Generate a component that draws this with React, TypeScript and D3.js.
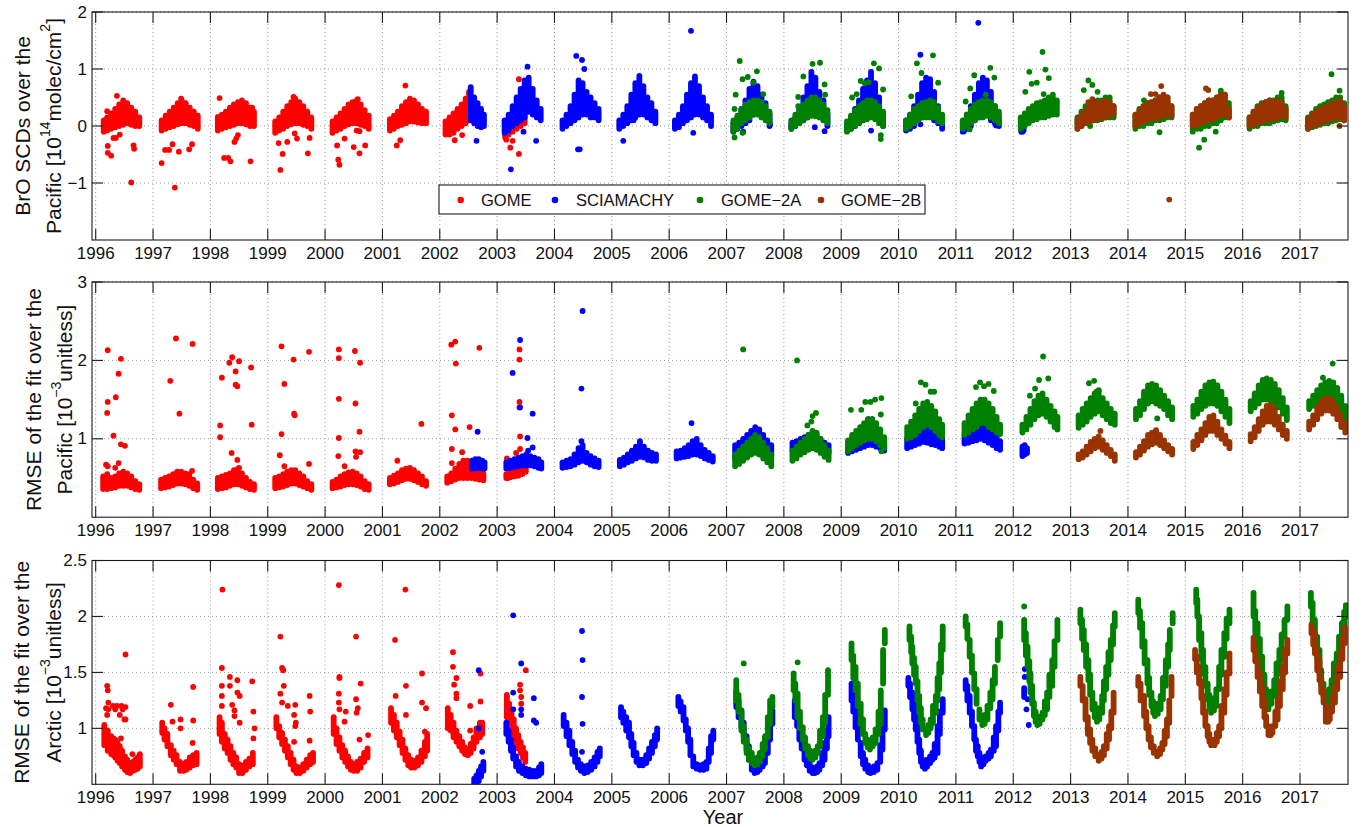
import React from 'react';
import * as d3 from 'd3';

type Band = [number, number, number];
type Pt = [number, number];

const yearTicks = [1996, 1997, 1998, 1999, 2000, 2001, 2002, 2003, 2004, 2005, 2006, 2007, 2008, 2009, 2010, 2011, 2012, 2013, 2014, 2015, 2016, 2017];
const instruments = ['GOME', 'SCIAMACHY', 'GOME\u22122A', 'GOME\u22122B'];

const scdTicks = [2, 1, 0, -1];
const scdTickLabels = ['2', '1', '0', '\u22121'];
const pacTicks = [3, 2, 1];
const pacTickLabels = ['3', '2', '1'];
const arcTicks = [2.5, 2, 1.5, 1];
const arcTickLabels = ['2.5', '2', '1.5', '1'];

// ---------------- Panel 1: BrO SCDs over the Pacific ----------------
const scdGomeBand: Band[] = [
  [1996.14,-0.1,0.1],[1996.2,-0.08,0.15],[1996.27,-0.05,0.22],[1996.34,-0.02,0.3],[1996.41,0.0,0.38],[1996.48,0.02,0.45],[1996.55,0.05,0.4],[1996.62,0.02,0.32],[1996.69,0.0,0.25],[1996.76,0.0,0.15],
  [1997.15,-0.08,0.1],[1997.22,-0.05,0.18],[1997.29,-0.02,0.25],[1997.36,0.0,0.32],[1997.43,0.03,0.4],[1997.5,0.05,0.45],[1997.57,0.05,0.4],[1997.64,0.02,0.32],[1997.71,0.0,0.25],[1997.78,-0.05,0.18],
  [1998.13,-0.08,0.16],[1998.2,-0.05,0.2],[1998.27,-0.02,0.25],[1998.34,0.0,0.32],[1998.41,0.02,0.38],[1998.48,0.05,0.42],[1998.55,0.05,0.45],[1998.62,0.03,0.4],[1998.69,0.0,0.32],[1998.76,0.0,0.25],
  [1999.13,-0.12,0.08],[1999.2,-0.08,0.15],[1999.27,-0.05,0.25],[1999.34,0.0,0.35],[1999.41,0.03,0.42],[1999.48,0.05,0.48],[1999.55,0.05,0.42],[1999.62,0.02,0.35],[1999.69,0.0,0.25],[1999.76,-0.05,0.15],
  [2000.13,-0.12,0.08],[2000.2,-0.08,0.15],[2000.27,-0.05,0.22],[2000.34,0.0,0.3],[2000.41,0.03,0.38],[2000.48,0.05,0.42],[2000.55,0.05,0.45],[2000.62,0.02,0.38],[2000.69,0.0,0.28],[2000.76,-0.05,0.18],
  [2001.13,-0.08,0.12],[2001.2,-0.05,0.18],[2001.27,0.0,0.25],[2001.34,0.02,0.35],[2001.41,0.05,0.42],[2001.48,0.08,0.48],[2001.55,0.08,0.45],[2001.62,0.06,0.38],[2001.69,0.05,0.3],[2001.76,0.05,0.25],
  [2002.1,-0.15,0.08],[2002.17,-0.15,0.15],[2002.24,-0.12,0.22],[2002.31,-0.05,0.3],[2002.38,0.0,0.38],[2002.45,0.05,0.48],[2002.51,0.1,0.6],
  [2003.14,-0.2,0.0],[2003.2,-0.15,0.08],[2003.27,-0.1,0.15],[2003.34,-0.05,0.22],[2003.41,0.0,0.3],[2003.48,0.05,0.4],
];
const scdGomePts: Pt[] = [
  [1996.2,0.26],[1996.37,0.53],[1996.21,-0.35],[1996.21,-0.47],[1996.27,-0.52],[1996.31,-0.21],[1996.35,-0.21],[1996.42,-0.15],[1996.62,-0.99],[1996.66,-0.34],[1996.67,-0.4],
  [1997.15,-0.65],[1997.21,-0.42],[1997.28,-0.42],[1997.34,-0.32],[1997.38,-1.08],[1997.45,-0.45],[1997.49,0.48],[1997.63,-0.41],[1997.68,-0.32],
  [1998.16,0.49],[1998.24,-0.56],[1998.31,-0.56],[1998.35,-0.62],[1998.42,-0.28],[1998.45,-0.22],[1998.48,-0.16],[1998.7,-0.62],[1998.73,0.32],
  [1999.19,-0.3],[1999.22,-0.77],[1999.26,-0.49],[1999.34,-0.28],[1999.45,0.51],[1999.47,-0.13],[1999.51,-0.22],[1999.7,-0.48],[1999.73,-0.21],
  [2000.21,-0.34],[2000.23,-0.59],[2000.25,-0.68],[2000.34,-0.22],[2000.5,-0.37],[2000.57,0.47],[2000.6,-0.48],[2000.7,-0.34],[2000.55,-0.08],[2000.6,-0.09],
  [2001.4,0.71],[2001.25,-0.34],[2001.31,-0.25],
  [2002.26,-0.25],[2002.39,-0.16],
  [2003.38,0.82],[2003.16,-0.24],[2003.23,-0.38],[2003.27,-0.26],[2003.38,-0.49],
];
const scdSciaBand: Band[] = [
  [2002.54,0.1,0.68],[2002.6,0.05,0.5],[2002.66,0.0,0.4],[2002.72,-0.02,0.3],[2002.77,0.0,0.2],
  [2003.13,-0.12,0.1],[2003.2,-0.08,0.2],[2003.27,0.0,0.35],[2003.34,0.05,0.5],[2003.41,0.1,0.65],[2003.48,0.15,0.8],[2003.55,0.25,0.85],[2003.62,0.2,0.65],[2003.69,0.15,0.45],[2003.76,0.1,0.3],
  [2004.14,-0.05,0.1],[2004.21,0.0,0.2],[2004.28,0.05,0.35],[2004.35,0.1,0.55],[2004.42,0.15,0.8],[2004.49,0.2,0.75],[2004.56,0.2,0.6],[2004.63,0.15,0.5],[2004.7,0.15,0.4],[2004.77,0.1,0.3],
  [2005.13,-0.05,0.1],[2005.2,0.0,0.2],[2005.27,0.05,0.35],[2005.34,0.1,0.55],[2005.41,0.15,0.75],[2005.48,0.2,0.88],[2005.55,0.2,0.7],[2005.62,0.15,0.5],[2005.69,0.1,0.4],[2005.76,0.05,0.25],
  [2006.1,-0.05,0.1],[2006.17,-0.02,0.2],[2006.24,0.05,0.35],[2006.31,0.1,0.55],[2006.38,0.15,0.75],[2006.45,0.2,0.87],[2006.52,0.2,0.7],[2006.59,0.15,0.5],[2006.66,0.1,0.35],[2006.73,0.0,0.2],
  [2007.12,-0.1,0.05],[2007.19,-0.05,0.15],[2007.26,0.0,0.3],[2007.33,0.05,0.45],[2007.4,0.1,0.65],[2007.47,0.2,0.78],[2007.54,0.25,0.7],[2007.61,0.25,0.55],[2007.68,0.15,0.4],[2007.75,0.0,0.2],
  [2008.13,-0.05,0.05],[2008.2,0.0,0.15],[2008.27,0.05,0.3],[2008.34,0.1,0.5],[2008.41,0.15,0.7],[2008.48,0.2,0.95],[2008.55,0.25,0.85],[2008.62,0.2,0.6],[2008.69,0.1,0.45],[2008.76,0.0,0.2],
  [2009.1,-0.08,0.05],[2009.17,-0.05,0.15],[2009.24,0.0,0.3],[2009.31,0.05,0.45],[2009.38,0.1,0.65],[2009.45,0.15,0.8],[2009.52,0.2,0.95],[2009.59,0.15,0.75],[2009.66,0.1,0.5],[2009.73,0.0,0.2],
  [2010.13,-0.08,0.1],[2010.2,-0.05,0.2],[2010.27,0.0,0.35],[2010.34,0.1,0.55],[2010.41,0.15,0.75],[2010.48,0.2,0.85],[2010.55,0.2,0.82],[2010.62,0.1,0.6],[2010.69,0.05,0.35],[2010.76,-0.05,0.15],
  [2011.12,-0.1,0.08],[2011.19,-0.05,0.2],[2011.26,0.0,0.35],[2011.33,0.1,0.55],[2011.4,0.15,0.75],[2011.47,0.2,0.85],[2011.54,0.2,0.8],[2011.61,0.1,0.6],[2011.68,0.05,0.35],[2011.75,0.0,0.15],
  [2012.14,-0.1,0.05],[2012.18,-0.08,0.08],
];
const scdSciaPts: Pt[] = [
  [2002.64,-0.26],[2003.53,1.04],[2003.24,-0.76],[2003.68,-0.26],[2003.46,-0.1],[2004.38,1.23],[2004.48,1.16],[2004.52,1.0],[2004.41,-0.41],[2004.44,-0.41],
  [2005.2,-0.26],[2005.38,0.1],[2006.38,1.67],[2006.42,-0.12],[2007.29,-0.1],[2007.76,0.03],[2008.54,-0.02],[2008.71,-0.09],[2009.52,-0.08],
  [2010.38,1.25],[2010.15,-0.05],[2010.38,0.03],[2011.39,1.81],[2011.14,-0.09],[2011.7,0.01],[2012.16,-0.1],
];
const scdG2aBand: Band[] = [
  [2007.12,-0.1,0.1],[2007.19,-0.05,0.18],[2007.26,0.05,0.3],[2007.33,0.1,0.38],[2007.4,0.15,0.42],[2007.47,0.2,0.45],[2007.54,0.2,0.45],[2007.61,0.15,0.42],[2007.68,0.1,0.35],[2007.75,0.05,0.25],
  [2008.13,-0.05,0.1],[2008.2,0.0,0.2],[2008.27,0.05,0.3],[2008.34,0.1,0.38],[2008.41,0.15,0.45],[2008.48,0.18,0.5],[2008.55,0.2,0.5],[2008.62,0.15,0.45],[2008.69,0.1,0.38],[2008.76,0.05,0.28],
  [2009.1,-0.1,0.08],[2009.17,-0.05,0.18],[2009.24,0.0,0.28],[2009.31,0.05,0.35],[2009.38,0.1,0.4],[2009.45,0.12,0.45],[2009.52,0.15,0.45],[2009.59,0.12,0.42],[2009.66,0.05,0.35],[2009.73,0.0,0.25],
  [2010.13,-0.05,0.1],[2010.2,0.0,0.2],[2010.27,0.05,0.3],[2010.34,0.1,0.35],[2010.41,0.15,0.4],[2010.48,0.15,0.42],[2010.55,0.15,0.45],[2010.62,0.15,0.42],[2010.69,0.08,0.32],[2010.76,0.05,0.2],
  [2011.12,-0.05,0.1],[2011.19,0.0,0.2],[2011.26,0.05,0.3],[2011.33,0.1,0.38],[2011.4,0.15,0.42],[2011.47,0.15,0.45],[2011.54,0.18,0.45],[2011.61,0.15,0.42],[2011.68,0.1,0.35],[2011.75,0.05,0.25],
  [2012.13,-0.05,0.15],[2012.2,0.0,0.22],[2012.27,0.05,0.3],[2012.34,0.1,0.35],[2012.41,0.12,0.4],[2012.48,0.15,0.42],[2012.55,0.15,0.45],[2012.62,0.18,0.5],[2012.69,0.2,0.55],[2012.76,0.2,0.45],
  [2013.12,-0.05,0.15],[2013.19,0.0,0.25],[2013.26,0.05,0.35],[2013.33,0.05,0.4],[2013.4,0.1,0.42],[2013.47,0.1,0.45],[2013.54,0.12,0.45],[2013.61,0.15,0.5],[2013.68,0.15,0.5],[2013.75,0.15,0.35],
  [2014.13,-0.05,0.2],[2014.2,0.0,0.3],[2014.27,0.0,0.35],[2014.34,0.05,0.4],[2014.41,0.05,0.42],[2014.48,0.1,0.45],[2014.55,0.1,0.5],[2014.62,0.12,0.5],[2014.69,0.15,0.5],[2014.76,0.15,0.35],
  [2015.13,-0.1,0.2],[2015.2,-0.05,0.3],[2015.27,-0.05,0.35],[2015.34,0.0,0.4],[2015.41,0.0,0.45],[2015.48,0.05,0.45],[2015.55,0.05,0.5],[2015.62,0.1,0.55],[2015.69,0.15,0.55],[2015.76,0.15,0.4],
  [2016.12,-0.05,0.15],[2016.19,0.0,0.25],[2016.26,0.0,0.35],[2016.33,0.05,0.4],[2016.4,0.05,0.42],[2016.47,0.05,0.45],[2016.54,0.08,0.45],[2016.61,0.1,0.5],[2016.68,0.12,0.5],[2016.75,0.1,0.35],
  [2017.14,-0.05,0.15],[2017.21,-0.02,0.22],[2017.28,0.0,0.3],[2017.35,0.02,0.35],[2017.42,0.05,0.38],[2017.49,0.05,0.42],[2017.56,0.08,0.45],[2017.63,0.1,0.5],[2017.7,0.12,0.5],[2017.77,0.1,0.4],
];
const scdG2aPts: Pt[] = [
  [2007.23,1.14],[2007.16,0.55],[2007.14,0.3],[2007.28,0.82],[2007.37,0.86],[2007.53,0.96],[2007.64,0.56],[2007.47,0.76],[2007.14,-0.2],[2007.28,-0.12],
  [2008.34,0.87],[2008.5,1.09],[2008.63,1.11],[2008.25,0.51],[2008.25,0.35],[2008.71,0.73],[2008.72,0.55],[2008.55,0.17],
  [2009.19,0.5],[2009.34,0.79],[2009.48,0.77],[2009.57,1.1],[2009.66,1.01],[2009.73,0.64],[2009.69,-0.16],[2009.69,-0.23],[2009.41,0.75],[2009.27,0.56],
  [2010.6,1.24],[2010.32,1.1],[2010.4,0.93],[2010.22,0.52],[2010.69,0.76],
  [2011.32,0.89],[2011.6,1.02],[2011.67,0.85],[2011.25,0.66],[2011.17,0.43],[2011.52,0.55],[2011.24,-0.06],
  [2012.51,1.3],[2012.28,0.95],[2012.56,0.99],[2012.62,0.84],[2012.32,0.74],[2012.41,0.76],[2012.21,0.6],[2012.53,0.56],
  [2013.31,0.8],[2013.23,0.63],[2013.38,0.72],[2013.47,0.6],[2013.34,0.0],
  [2014.55,-0.11],[2014.28,0.45],
  [2015.24,-0.38],[2015.33,-0.24],[2015.53,-0.1],[2015.62,0.62],
  [2016.68,0.58],
  [2017.55,0.91],[2017.69,0.62],
];
const scdG2bBand: Band[] = [
  [2013.12,-0.05,0.12],[2013.19,0.0,0.2],[2013.26,0.05,0.28],[2013.33,0.08,0.35],[2013.4,0.1,0.38],[2013.47,0.12,0.4],[2013.54,0.15,0.42],[2013.61,0.15,0.45],[2013.68,0.2,0.42],[2013.75,0.2,0.35],
  [2014.13,0.0,0.2],[2014.2,0.05,0.28],[2014.27,0.08,0.35],[2014.34,0.1,0.4],[2014.41,0.12,0.42],[2014.48,0.15,0.45],[2014.55,0.15,0.5],[2014.62,0.18,0.55],[2014.69,0.2,0.5],[2014.76,0.18,0.35],
  [2015.13,0.0,0.2],[2015.2,0.02,0.3],[2015.27,0.05,0.35],[2015.34,0.08,0.4],[2015.41,0.1,0.45],[2015.48,0.12,0.45],[2015.55,0.15,0.5],[2015.62,0.2,0.55],[2015.69,0.2,0.55],[2015.76,0.15,0.3],
  [2016.12,0.0,0.15],[2016.19,0.02,0.25],[2016.26,0.05,0.32],[2016.33,0.08,0.38],[2016.4,0.1,0.42],[2016.47,0.12,0.45],[2016.54,0.12,0.42],[2016.61,0.15,0.45],[2016.68,0.18,0.42],[2016.75,0.15,0.3],
  [2017.14,-0.05,0.12],[2017.21,0.0,0.2],[2017.28,0.02,0.25],[2017.35,0.05,0.3],[2017.42,0.08,0.32],[2017.49,0.1,0.35],[2017.56,0.12,0.4],[2017.63,0.15,0.42],[2017.7,0.15,0.45],[2017.77,0.1,0.35],
];
const scdG2bPts: Pt[] = [
  [2013.38,0.47],[2013.31,0.42],[2014.72,-1.29],[2014.58,0.7],[2014.48,0.56],[2014.4,0.56],[2015.36,0.66],[2015.4,0.63],[2017.69,0.0],
];

// ---------------- Panel 2: RMSE over the Pacific ----------------
const pacGomeBand: Band[] = [
  [1996.13,0.36,0.52],[1996.2,0.36,0.55],[1996.27,0.37,0.5],[1996.34,0.38,0.52],[1996.41,0.4,0.56],[1996.48,0.4,0.58],[1996.55,0.4,0.56],[1996.62,0.38,0.52],[1996.69,0.36,0.46],[1996.76,0.35,0.42],
  [1997.14,0.37,0.48],[1997.21,0.38,0.5],[1997.28,0.39,0.52],[1997.35,0.41,0.55],[1997.42,0.43,0.58],[1997.49,0.43,0.58],[1997.56,0.42,0.56],[1997.63,0.4,0.55],[1997.7,0.37,0.48],[1997.77,0.35,0.43],
  [1998.13,0.36,0.5],[1998.2,0.37,0.52],[1998.27,0.38,0.54],[1998.34,0.4,0.56],[1998.41,0.42,0.6],[1998.48,0.42,0.62],[1998.55,0.4,0.56],[1998.62,0.38,0.5],[1998.69,0.36,0.45],[1998.76,0.35,0.42],
  [1999.13,0.37,0.5],[1999.2,0.38,0.52],[1999.27,0.39,0.55],[1999.34,0.41,0.58],[1999.41,0.43,0.6],[1999.48,0.43,0.6],[1999.55,0.41,0.56],[1999.62,0.39,0.52],[1999.69,0.37,0.46],[1999.76,0.35,0.42],
  [2000.13,0.37,0.45],[2000.2,0.38,0.48],[2000.27,0.39,0.52],[2000.34,0.41,0.55],[2000.41,0.42,0.57],[2000.48,0.42,0.58],[2000.55,0.41,0.56],[2000.62,0.39,0.52],[2000.69,0.36,0.46],[2000.76,0.35,0.42],
  [2001.13,0.42,0.5],[2001.2,0.43,0.53],[2001.27,0.45,0.56],[2001.34,0.47,0.6],[2001.41,0.49,0.62],[2001.48,0.49,0.63],[2001.55,0.47,0.6],[2001.62,0.45,0.56],[2001.69,0.42,0.52],[2001.76,0.4,0.46],
  [2002.13,0.44,0.52],[2002.2,0.46,0.56],[2002.27,0.48,0.62],[2002.34,0.5,0.68],[2002.41,0.5,0.72],[2002.48,0.5,0.72],[2002.55,0.5,0.68],[2002.62,0.49,0.62],[2002.69,0.48,0.58],[2002.76,0.47,0.56],
  [2003.16,0.5,0.55],[2003.23,0.51,0.58],[2003.3,0.52,0.6],[2003.37,0.53,0.62],[2003.44,0.55,0.65],[2003.5,0.58,0.66],
];
const pacGomePts: Pt[] = [
  [1996.21,2.13],[1996.21,1.47],[1996.2,1.33],[1996.31,1.04],[1996.35,1.53],[1996.4,1.83],[1996.44,2.02],[1996.44,0.93],[1996.51,0.91],[1996.34,0.63],[1996.4,0.69],[1996.18,0.67],[1996.21,0.65],
  [1997.4,2.28],[1997.3,1.74],[1997.46,1.32],[1997.69,2.21],[1997.68,0.59],
  [1998.2,1.78],[1998.17,1.17],[1998.17,1.02],[1998.33,1.97],[1998.38,2.04],[1998.5,1.99],[1998.44,1.86],[1998.44,1.69],[1998.47,1.67],[1998.37,0.82],[1998.47,0.73],[1998.5,0.63],[1998.71,1.91],[1998.72,1.18],
  [1999.24,2.18],[1999.29,1.7],[1999.24,1.06],[1999.21,0.79],[1999.29,0.65],[1999.45,2.01],[1999.46,1.32],[1999.47,1.3],[1999.72,2.11],[1999.72,0.68],
  [2000.24,2.14],[2000.24,2.03],[2000.24,1.51],[2000.24,1.01],[2000.23,0.78],[2000.34,0.65],[2000.52,2.12],[2000.53,1.45],[2000.53,0.84],[2000.54,0.77],[2000.61,1.97],[2000.6,1.09],[2000.61,0.83],
  [2001.26,0.72],[2001.68,1.19],
  [2002.2,2.2],[2002.27,2.24],[2002.28,1.96],[2002.69,2.16],[2002.21,1.3],[2002.27,1.12],[2002.52,1.15],[2002.21,0.87],[2002.39,0.83],[2002.21,0.69],
  [2003.39,2.14],[2003.39,2.01],[2003.39,1.47],[2003.39,1.4],[2003.4,1.03],[2003.4,0.87],[2003.33,0.82],[2003.17,0.75],[2003.19,0.5],
];
const pacSciaBand: Band[] = [
  [2002.56,0.62,0.72],[2002.62,0.62,0.74],[2002.68,0.63,0.74],[2002.74,0.62,0.72],[2002.78,0.62,0.7],
  [2003.16,0.62,0.7],[2003.23,0.63,0.72],[2003.3,0.64,0.74],[2003.37,0.65,0.76],[2003.44,0.66,0.78],[2003.51,0.66,0.8],[2003.58,0.66,0.78],[2003.65,0.65,0.76],[2003.72,0.63,0.74],[2003.77,0.62,0.7],
  [2004.14,0.63,0.7],[2004.21,0.64,0.72],[2004.28,0.65,0.74],[2004.35,0.67,0.8],[2004.42,0.7,0.88],[2004.49,0.72,0.92],[2004.56,0.7,0.82],[2004.63,0.67,0.78],[2004.7,0.65,0.75],[2004.77,0.64,0.72],
  [2005.14,0.65,0.73],[2005.21,0.67,0.76],[2005.28,0.7,0.8],[2005.35,0.72,0.85],[2005.42,0.75,0.9],[2005.49,0.77,0.97],[2005.56,0.76,0.9],[2005.63,0.73,0.85],[2005.7,0.72,0.82],[2005.77,0.72,0.8],
  [2006.13,0.75,0.84],[2006.2,0.76,0.85],[2006.27,0.77,0.88],[2006.34,0.78,0.92],[2006.41,0.8,0.97],[2006.48,0.8,1.0],[2006.55,0.78,0.92],[2006.62,0.75,0.86],[2006.69,0.73,0.82],[2006.76,0.71,0.78],
  [2007.15,0.75,0.92],[2007.22,0.78,0.95],[2007.29,0.8,1.0],[2007.36,0.82,1.05],[2007.43,0.85,1.1],[2007.5,0.88,1.15],[2007.57,0.88,1.12],[2007.64,0.85,1.05],[2007.71,0.8,0.98],[2007.78,0.78,0.92],
  [2008.15,0.85,0.95],[2008.22,0.86,0.97],[2008.29,0.87,1.0],[2008.36,0.88,1.02],[2008.43,0.9,1.05],[2008.5,0.9,1.08],[2008.57,0.9,1.06],[2008.64,0.88,1.0],[2008.71,0.85,0.95],[2008.78,0.82,0.92],
  [2009.12,0.82,0.95],[2009.19,0.84,1.0],[2009.26,0.86,1.05],[2009.33,0.88,1.1],[2009.4,0.9,1.18],[2009.47,0.92,1.25],[2009.54,0.92,1.25],[2009.61,0.9,1.15],[2009.68,0.88,1.05],[2009.75,0.85,0.95],
  [2010.15,0.88,1.0],[2010.22,0.9,1.05],[2010.29,0.92,1.12],[2010.36,0.94,1.18],[2010.43,0.96,1.24],[2010.5,0.95,1.26],[2010.57,0.93,1.2],[2010.64,0.92,1.12],[2010.71,0.9,1.05],[2010.76,0.88,1.0],
  [2011.15,0.94,1.05],[2011.22,0.95,1.12],[2011.29,0.97,1.2],[2011.36,0.98,1.28],[2011.43,1.0,1.33],[2011.5,0.98,1.3],[2011.57,0.95,1.2],[2011.64,0.92,1.1],[2011.71,0.88,1.02],[2011.77,0.86,0.97],
  [2012.16,0.78,0.9],[2012.2,0.8,0.92],[2012.24,0.82,0.88],
];
const pacSciaPts: Pt[] = [
  [2002.66,1.09],[2003.4,2.26],[2003.27,1.84],[2003.4,1.4],[2003.62,1.32],[2003.53,1.01],[2003.54,0.85],[2003.62,0.89],
  [2004.49,2.63],[2004.47,1.64],[2004.47,0.97],[2006.39,1.2],
];
const pacG2aBand: Band[] = [
  [2007.15,0.65,0.8],[2007.22,0.68,0.85],[2007.29,0.72,0.9],[2007.36,0.76,0.95],[2007.43,0.8,1.0],[2007.5,0.82,1.05],[2007.57,0.8,1.02],[2007.64,0.75,0.95],[2007.71,0.7,0.88],[2007.78,0.65,0.8],
  [2008.15,0.72,0.85],[2008.22,0.75,0.9],[2008.29,0.8,0.95],[2008.36,0.83,1.0],[2008.43,0.86,1.05],[2008.5,0.88,1.1],[2008.57,0.86,1.08],[2008.64,0.82,1.0],[2008.71,0.77,0.92],[2008.78,0.73,0.85],
  [2009.12,0.84,0.98],[2009.19,0.88,1.05],[2009.26,0.92,1.1],[2009.33,0.95,1.15],[2009.4,0.98,1.2],[2009.47,1.0,1.25],[2009.54,1.0,1.25],[2009.61,0.97,1.2],[2009.68,0.92,1.12],[2009.75,0.88,1.02],
  [2010.15,1.0,1.15],[2010.22,1.02,1.22],[2010.29,1.05,1.3],[2010.36,1.1,1.38],[2010.43,1.15,1.45],[2010.5,1.18,1.47],[2010.57,1.15,1.42],[2010.64,1.1,1.35],[2010.71,1.05,1.25],[2010.76,1.02,1.18],
  [2011.15,1.05,1.2],[2011.22,1.08,1.3],[2011.29,1.12,1.38],[2011.36,1.15,1.45],[2011.43,1.2,1.5],[2011.5,1.2,1.5],[2011.57,1.15,1.45],[2011.64,1.12,1.38],[2011.71,1.08,1.28],[2011.77,1.06,1.18],
  [2012.16,1.08,1.18],[2012.23,1.12,1.28],[2012.3,1.18,1.38],[2012.37,1.25,1.48],[2012.44,1.3,1.55],[2012.51,1.32,1.58],[2012.58,1.28,1.5],[2012.65,1.22,1.42],[2012.72,1.15,1.35],[2012.77,1.12,1.28],
  [2013.14,1.14,1.3],[2013.21,1.18,1.38],[2013.28,1.22,1.45],[2013.35,1.28,1.52],[2013.42,1.32,1.58],[2013.49,1.35,1.6],[2013.56,1.3,1.52],[2013.63,1.25,1.45],[2013.7,1.2,1.38],[2013.77,1.18,1.32],
  [2014.14,1.25,1.38],[2014.21,1.3,1.48],[2014.28,1.38,1.6],[2014.35,1.45,1.68],[2014.42,1.48,1.7],[2014.49,1.45,1.68],[2014.56,1.42,1.62],[2014.63,1.38,1.55],[2014.7,1.3,1.48],[2014.77,1.25,1.4],
  [2015.14,1.28,1.42],[2015.21,1.32,1.5],[2015.28,1.38,1.6],[2015.35,1.42,1.68],[2015.42,1.45,1.72],[2015.49,1.45,1.73],[2015.56,1.42,1.68],[2015.63,1.35,1.6],[2015.7,1.28,1.5],[2015.77,1.2,1.38],
  [2016.14,1.35,1.48],[2016.21,1.4,1.58],[2016.28,1.45,1.68],[2016.35,1.5,1.75],[2016.42,1.5,1.77],[2016.49,1.48,1.75],[2016.56,1.45,1.7],[2016.63,1.4,1.62],[2016.7,1.32,1.52],[2016.77,1.24,1.4],
  [2017.16,1.38,1.48],[2017.23,1.42,1.55],[2017.3,1.45,1.62],[2017.37,1.48,1.68],[2017.44,1.5,1.72],[2017.51,1.5,1.74],[2017.58,1.48,1.72],[2017.65,1.42,1.65],[2017.72,1.35,1.55],[2017.79,1.25,1.42],
];
const pacG2aPts: Pt[] = [
  [2007.29,2.14],[2008.23,2.0],[2008.41,1.17],[2008.5,1.29],[2008.56,1.33],[2008.48,1.22],
  [2009.17,1.37],[2009.35,1.37],[2009.42,1.47],[2009.51,1.47],[2009.59,1.5],[2009.7,1.52],[2009.69,1.31],[2009.7,0.84],
  [2010.39,1.72],[2010.47,1.69],[2010.56,1.6],[2010.62,1.6],[2010.3,1.45],
  [2011.35,1.66],[2011.42,1.72],[2011.57,1.7],[2011.66,1.61],[2011.49,1.67],
  [2012.52,2.05],[2012.61,1.77],[2012.45,1.75],[2012.38,1.64],[2012.29,1.55],
  [2013.32,1.71],[2013.41,1.74],[2013.49,1.62],[2013.45,1.6],
  [2014.51,1.26],[2017.57,1.96],[2017.4,1.78],
];
const pacG2bBand: Band[] = [
  [2013.14,0.74,0.8],[2013.21,0.76,0.84],[2013.28,0.8,0.9],[2013.35,0.84,0.96],[2013.42,0.88,1.0],[2013.49,0.9,1.03],[2013.56,0.86,0.98],[2013.63,0.82,0.92],[2013.7,0.78,0.86],[2013.77,0.72,0.8],
  [2014.14,0.76,0.83],[2014.21,0.8,0.9],[2014.28,0.85,0.97],[2014.35,0.9,1.05],[2014.42,0.93,1.08],[2014.49,0.95,1.11],[2014.56,0.92,1.05],[2014.63,0.88,0.98],[2014.7,0.84,0.92],[2014.77,0.8,0.87],
  [2015.14,0.87,0.96],[2015.21,0.92,1.05],[2015.28,0.98,1.12],[2015.35,1.05,1.2],[2015.42,1.1,1.28],[2015.49,1.1,1.3],[2015.56,1.05,1.22],[2015.63,1.0,1.12],[2015.7,0.94,1.04],[2015.77,0.88,0.96],
  [2016.14,0.97,1.06],[2016.21,1.02,1.15],[2016.28,1.1,1.25],[2016.35,1.18,1.35],[2016.42,1.22,1.42],[2016.49,1.22,1.43],[2016.56,1.18,1.38],[2016.63,1.12,1.28],[2016.7,1.05,1.18],[2016.77,1.0,1.1],
  [2017.16,1.12,1.22],[2017.23,1.18,1.3],[2017.3,1.25,1.4],[2017.37,1.32,1.48],[2017.44,1.36,1.52],[2017.51,1.36,1.52],[2017.58,1.32,1.48],[2017.65,1.25,1.4],[2017.72,1.15,1.3],[2017.79,1.08,1.2],
];
const pacG2bPts: Pt[] = [[2013.52,1.1]];

// ---------------- Panel 3: RMSE over the Arctic ----------------
const arcGomeBand: Band[] = [
  [1996.15,0.85,1.03],[1996.21,0.8,0.98],[1996.27,0.77,0.93],[1996.31,0.76,0.91],[1996.34,0.74,0.9],[1996.38,0.71,0.87],[1996.42,0.69,0.84],[1996.46,0.66,0.8],[1996.51,0.63,0.75],[1996.55,0.61,0.72],[1996.6,0.6,0.69],[1996.65,0.62,0.7],[1996.69,0.63,0.72],[1996.73,0.64,0.74],[1996.77,0.66,0.77],
  [1997.16,0.96,1.05],[1997.2,0.9,1.0],[1997.25,0.84,0.95],[1997.31,0.76,0.85],[1997.36,0.72,0.8],[1997.41,0.68,0.76],[1997.47,0.62,0.7],[1997.53,0.62,0.68],[1997.58,0.63,0.7],[1997.64,0.65,0.74],[1997.7,0.67,0.76],[1997.76,0.68,0.78],
  [1998.16,0.95,1.1],[1998.2,0.88,1.05],[1998.25,0.82,0.95],[1998.3,0.78,0.9],[1998.35,0.72,0.84],[1998.4,0.68,0.78],[1998.45,0.65,0.74],[1998.5,0.6,0.68],[1998.56,0.6,0.67],[1998.62,0.63,0.7],[1998.68,0.66,0.73],[1998.74,0.68,0.78],
  [1999.15,1.0,1.1],[1999.2,0.92,1.02],[1999.25,0.86,0.96],[1999.3,0.8,0.9],[1999.35,0.74,0.84],[1999.4,0.68,0.78],[1999.45,0.63,0.72],[1999.5,0.6,0.66],[1999.56,0.6,0.65],[1999.62,0.62,0.68],[1999.68,0.65,0.72],[1999.74,0.68,0.76],[1999.79,0.7,0.78],
  [2000.15,0.95,1.1],[2000.2,0.86,1.0],[2000.25,0.8,0.92],[2000.3,0.74,0.85],[2000.35,0.7,0.8],[2000.4,0.66,0.75],[2000.45,0.63,0.7],[2000.5,0.62,0.68],[2000.56,0.62,0.7],[2000.62,0.65,0.73],[2000.68,0.7,0.78],[2000.74,0.74,0.82],
  [2001.15,1.05,1.18],[2001.2,0.98,1.12],[2001.25,0.92,1.05],[2001.3,0.85,0.97],[2001.35,0.78,0.9],[2001.4,0.72,0.82],[2001.45,0.67,0.76],[2001.5,0.65,0.72],[2001.56,0.65,0.71],[2001.62,0.67,0.74],[2001.68,0.7,0.8],[2001.74,0.75,0.88],[2001.78,0.8,0.95],
  [2002.14,1.0,1.18],[2002.19,0.98,1.12],[2002.24,0.92,1.05],[2002.29,0.88,0.98],[2002.34,0.84,0.93],[2002.39,0.8,0.88],[2002.44,0.77,0.83],[2002.49,0.76,0.81],[2002.54,0.78,0.86],[2002.59,0.82,0.92],[2002.64,0.88,1.0],[2002.7,0.92,1.05],[2002.74,0.95,1.05],
  [2003.17,1.1,1.3],[2003.21,1.05,1.22],[2003.25,0.98,1.15],[2003.29,0.92,1.08],[2003.33,0.87,1.0],[2003.37,0.82,0.94],[2003.41,0.78,0.88],[2003.45,0.74,0.83],[2003.49,0.7,0.78],
];
const arcGomePts: Pt[] = [
  [1996.2,1.38],[1996.21,1.34],[1996.22,1.23],[1996.52,1.66],[1996.52,1.08],[1996.44,0.91],[1996.64,0.77],[1996.3,1.2],[1996.34,1.17],[1996.37,1.2],[1996.45,1.2],[1996.47,1.17],[1996.52,1.19],[1996.42,1.12],[1996.5,1.08],[1996.18,1.18],[1996.22,1.17],[1996.2,1.12],
  [1997.31,1.21],[1997.34,1.06],[1997.48,1.08],[1997.48,1.0],[1997.7,1.37],[1997.7,1.07],[1997.69,0.87],
  [1998.21,2.24],[1998.2,1.54],[1998.2,1.38],[1998.2,1.29],[1998.2,1.2],[1998.34,1.46],[1998.34,1.38],[1998.38,1.21],[1998.42,1.16],[1998.42,1.11],[1998.47,1.32],[1998.51,1.29],[1998.47,1.43],[1998.51,1.05],[1998.73,1.42],[1998.75,1.15],[1998.75,0.91],[1998.77,1.0],
  [1999.22,1.82],[1999.25,1.54],[1999.27,1.52],[1999.28,1.38],[1999.22,1.31],[1999.25,1.23],[1999.35,1.2],[1999.48,1.21],[1999.46,1.12],[1999.49,1.05],[1999.48,1.02],[1999.46,0.88],[1999.73,1.29],[1999.74,1.15],[1999.73,0.89],
  [2000.24,2.28],[2000.25,1.46],[2000.25,1.45],[2000.24,1.31],[2000.24,1.23],[2000.25,1.17],[2000.36,1.15],[2000.34,1.06],[2000.54,1.82],[2000.54,1.26],[2000.57,1.18],[2000.55,1.14],[2000.62,1.4],[2000.75,0.94],[2000.6,0.9],
  [2001.22,1.79],[2001.23,1.29],[2001.4,2.24],[2001.41,1.38],[2001.41,1.12],[2001.69,1.49],[2001.69,1.23],[2001.76,1.18],[2001.74,0.97],
  [2002.23,1.68],[2002.23,1.55],[2002.29,1.45],[2002.25,1.39],[2002.29,1.31],[2002.29,1.27],[2002.53,1.2],[2002.53,0.98],[2002.71,1.49],[2002.71,1.24],[2002.7,1.03],
  [2003.5,1.52],[2003.4,1.39],[2003.4,1.34],[2003.42,1.28],[2003.42,1.22],
];
const arcSciaBand: Band[] = [
  [2002.6,0.5,0.55],[2002.64,0.51,0.58],[2002.68,0.53,0.62],[2002.72,0.57,0.66],[2002.76,0.62,0.7],
  [2003.16,0.95,1.05],[2003.2,0.88,0.98],[2003.24,0.8,0.9],[2003.28,0.73,0.83],[2003.33,0.66,0.75],[2003.38,0.62,0.7],[2003.44,0.6,0.66],[2003.5,0.58,0.64],[2003.56,0.57,0.63],[2003.62,0.57,0.62],[2003.68,0.57,0.62],[2003.73,0.58,0.65],[2003.77,0.6,0.68],
  [2004.16,1.02,1.12],[2004.21,0.93,1.05],[2004.26,0.85,0.98],[2004.31,0.77,0.88],[2004.36,0.7,0.8],[2004.41,0.65,0.72],[2004.46,0.62,0.68],[2004.52,0.6,0.66],[2004.58,0.61,0.67],[2004.64,0.63,0.7],[2004.7,0.66,0.74],[2004.75,0.7,0.79],[2004.79,0.75,0.82],
  [2005.16,1.1,1.19],[2005.2,1.05,1.15],[2005.25,0.98,1.1],[2005.3,0.92,1.05],[2005.34,0.84,0.95],[2005.38,0.76,0.87],[2005.43,0.7,0.78],[2005.48,0.67,0.72],[2005.54,0.67,0.72],[2005.6,0.69,0.76],[2005.65,0.73,0.82],[2005.7,0.78,0.88],[2005.75,0.84,0.94],[2005.79,0.9,1.0],
  [2006.16,1.2,1.28],[2006.2,1.15,1.24],[2006.25,1.07,1.19],[2006.29,0.98,1.08],[2006.33,0.88,1.0],[2006.37,0.76,0.9],[2006.42,0.66,0.75],[2006.48,0.64,0.68],[2006.54,0.63,0.67],[2006.6,0.63,0.68],[2006.65,0.64,0.7],[2006.69,0.7,0.82],[2006.73,0.78,0.93],[2006.77,0.9,0.98],
  [2007.17,1.19,1.34],[2007.21,1.1,1.25],[2007.26,1.01,1.16],[2007.3,0.92,1.05],[2007.35,0.81,0.93],[2007.39,0.72,0.84],[2007.44,0.63,0.75],[2007.49,0.6,0.66],[2007.54,0.61,0.67],[2007.58,0.63,0.69],[2007.63,0.66,0.75],[2007.67,0.69,0.81],[2007.72,0.78,0.95],[2007.76,0.9,1.07],[2007.8,1.04,1.16],
  [2008.19,1.1,1.25],[2008.23,1.02,1.15],[2008.27,0.9,1.04],[2008.31,0.82,0.93],[2008.36,0.72,0.81],[2008.4,0.67,0.74],[2008.45,0.62,0.69],[2008.5,0.6,0.65],[2008.54,0.6,0.64],[2008.58,0.61,0.66],[2008.62,0.63,0.69],[2008.67,0.67,0.78],[2008.71,0.72,0.87],[2008.75,0.82,0.98],[2008.78,0.93,1.1],
  [2009.18,1.25,1.4],[2009.21,1.15,1.3],[2009.25,1.01,1.16],[2009.29,0.9,1.02],[2009.34,0.75,0.87],[2009.38,0.68,0.78],[2009.42,0.64,0.72],[2009.47,0.61,0.67],[2009.51,0.6,0.64],[2009.57,0.61,0.66],[2009.63,0.63,0.69],[2009.68,0.7,0.85],[2009.72,0.81,0.99],[2009.76,0.99,1.16],
  [2010.17,1.38,1.45],[2010.2,1.28,1.4],[2010.24,1.17,1.32],[2010.27,1.08,1.22],[2010.3,0.99,1.14],[2010.33,0.88,1.02],[2010.36,0.78,0.9],[2010.39,0.7,0.8],[2010.42,0.66,0.72],[2010.46,0.64,0.7],[2010.5,0.66,0.72],[2010.55,0.69,0.75],[2010.59,0.72,0.78],[2010.63,0.74,0.86],[2010.68,0.78,1.02],[2010.72,0.95,1.15],[2010.77,1.14,1.26],
  [2011.17,1.35,1.43],[2011.2,1.25,1.38],[2011.24,1.14,1.29],[2011.28,1.02,1.15],[2011.32,0.9,1.02],[2011.35,0.8,0.9],[2011.38,0.75,0.84],[2011.41,0.7,0.78],[2011.44,0.66,0.72],[2011.48,0.68,0.74],[2011.52,0.71,0.75],[2011.57,0.73,0.78],[2011.61,0.75,0.81],[2011.66,0.8,0.92],[2011.7,0.84,1.02],[2011.74,0.98,1.15],[2011.77,1.14,1.23],
  [2012.19,1.28,1.36],
];
const arcSciaPts: Pt[] = [
  [2002.68,1.52],[2002.68,1.0],[2002.74,0.79],
  [2003.28,2.01],[2003.42,1.58],[2003.28,1.32],[2003.28,1.17],[2003.42,1.17],[2003.42,1.12],[2003.64,1.27],[2003.64,1.07],[2003.68,1.05],
  [2004.48,1.87],[2004.49,1.61],[2004.48,1.28],[2004.49,1.04],[2004.48,0.79],
  [2012.2,1.53],[2012.2,1.46],[2012.25,1.26],[2012.23,1.17],[2012.27,1.03],
];
const arcG2aBand: Band[] = [
  [2007.17,1.25,1.43],[2007.21,1.15,1.3],[2007.26,0.98,1.16],[2007.3,0.88,1.02],[2007.35,0.78,0.9],[2007.39,0.72,0.82],[2007.44,0.69,0.78],[2007.49,0.67,0.73],[2007.54,0.68,0.74],[2007.58,0.7,0.78],[2007.63,0.75,0.86],[2007.67,0.81,0.93],[2007.72,0.92,1.1],[2007.76,1.04,1.25],[2007.8,1.19,1.28],
  [2008.17,1.34,1.49],[2008.2,1.25,1.4],[2008.24,1.1,1.31],[2008.28,1.0,1.15],[2008.33,0.9,1.01],[2008.37,0.82,0.92],[2008.42,0.76,0.84],[2008.46,0.73,0.8],[2008.5,0.72,0.78],[2008.55,0.74,0.8],[2008.59,0.78,0.84],[2008.63,0.84,0.98],[2008.68,0.93,1.1],[2008.72,1.05,1.3],[2008.77,1.3,1.52],
  [2009.18,1.61,1.76],[2009.21,1.45,1.65],[2009.25,1.34,1.55],[2009.29,1.2,1.4],[2009.34,1.04,1.22],[2009.38,0.95,1.08],[2009.42,0.87,0.95],[2009.46,0.83,0.9],[2009.5,0.81,0.87],[2009.55,0.84,0.92],[2009.6,0.87,0.99],[2009.65,0.95,1.15],[2009.69,1.04,1.34],[2009.73,1.4,1.7],[2009.76,1.76,1.88],
  [2010.19,1.79,1.91],[2010.22,1.68,1.82],[2010.24,1.58,1.73],[2010.27,1.48,1.63],[2010.3,1.4,1.55],[2010.33,1.25,1.42],[2010.36,1.14,1.29],[2010.39,1.05,1.18],[2010.42,0.99,1.08],[2010.48,0.94,0.99],[2010.52,0.96,1.03],[2010.56,1.0,1.08],[2010.6,1.05,1.2],[2010.65,1.14,1.29],[2010.68,1.25,1.45],[2010.71,1.35,1.58],[2010.74,1.5,1.75],[2010.77,1.7,1.91],
  [2011.17,1.91,2.0],[2011.2,1.8,1.93],[2011.24,1.64,1.79],[2011.28,1.5,1.65],[2011.32,1.35,1.49],[2011.36,1.22,1.35],[2011.41,1.08,1.17],[2011.46,1.03,1.08],[2011.5,1.04,1.12],[2011.55,1.08,1.2],[2011.6,1.18,1.32],[2011.64,1.26,1.43],[2011.68,1.4,1.55],[2011.73,1.61,1.79],[2011.77,1.82,1.94],
  [2012.19,1.79,1.97],[2012.22,1.65,1.85],[2012.25,1.55,1.73],[2012.28,1.42,1.6],[2012.3,1.32,1.49],[2012.33,1.22,1.38],[2012.36,1.11,1.23],[2012.39,1.06,1.15],[2012.42,1.03,1.11],[2012.46,1.04,1.1],[2012.51,1.08,1.14],[2012.55,1.12,1.24],[2012.59,1.17,1.32],[2012.63,1.28,1.48],[2012.68,1.38,1.61],[2012.72,1.55,1.78],[2012.77,1.79,1.97],
  [2013.17,1.94,2.06],[2013.2,1.8,1.97],[2013.23,1.7,1.88],[2013.27,1.55,1.75],[2013.31,1.43,1.61],[2013.34,1.3,1.48],[2013.38,1.17,1.32],[2013.42,1.1,1.22],[2013.46,1.06,1.17],[2013.5,1.08,1.18],[2013.55,1.14,1.29],[2013.58,1.25,1.42],[2013.62,1.35,1.55],[2013.66,1.48,1.68],[2013.7,1.61,1.79],[2013.74,1.75,1.92],[2013.77,1.91,2.03],
  [2014.18,2.03,2.15],[2014.21,1.9,2.05],[2014.25,1.73,1.94],[2014.29,1.58,1.78],[2014.34,1.4,1.61],[2014.37,1.3,1.45],[2014.41,1.2,1.32],[2014.44,1.14,1.24],[2014.47,1.11,1.2],[2014.52,1.13,1.22],[2014.57,1.17,1.29],[2014.61,1.26,1.45],[2014.66,1.38,1.61],[2014.7,1.55,1.75],[2014.73,1.7,1.88],[2014.78,1.94,2.03],
  [2015.19,2.12,2.24],[2015.21,2.0,2.15],[2015.24,1.79,2.0],[2015.28,1.62,1.85],[2015.31,1.49,1.7],[2015.35,1.38,1.55],[2015.39,1.26,1.4],[2015.42,1.18,1.3],[2015.45,1.14,1.23],[2015.5,1.16,1.27],[2015.54,1.2,1.35],[2015.59,1.35,1.55],[2015.63,1.48,1.7],[2015.68,1.64,1.85],[2015.72,1.8,1.98],[2015.77,1.94,2.06],
  [2016.19,2.0,2.21],[2016.22,1.85,2.05],[2016.26,1.73,1.94],[2016.3,1.58,1.8],[2016.34,1.43,1.64],[2016.38,1.32,1.48],[2016.41,1.23,1.35],[2016.45,1.17,1.26],[2016.5,1.22,1.33],[2016.55,1.29,1.43],[2016.59,1.38,1.58],[2016.64,1.49,1.7],[2016.68,1.62,1.84],[2016.73,1.82,1.97],[2016.78,1.97,2.09],
  [2017.19,2.09,2.21],[2017.22,1.95,2.12],[2017.26,1.79,1.97],[2017.3,1.62,1.82],[2017.34,1.49,1.7],[2017.37,1.38,1.52],[2017.41,1.29,1.4],[2017.44,1.22,1.32],[2017.47,1.17,1.29],[2017.51,1.22,1.35],[2017.55,1.29,1.43],[2017.59,1.38,1.58],[2017.64,1.49,1.67],[2017.68,1.62,1.82],[2017.73,1.79,1.94],[2017.77,1.9,2.04],[2017.8,2.0,2.1],
];
const arcG2aPts: Pt[] = [[2007.3,1.58],[2008.24,1.59],[2012.19,2.09]];
const arcG2bBand: Band[] = [
  [2013.17,1.38,1.46],[2013.21,1.25,1.38],[2013.26,1.08,1.26],[2013.3,0.95,1.1],[2013.34,0.87,0.99],[2013.38,0.8,0.9],[2013.43,0.75,0.82],[2013.49,0.71,0.76],[2013.54,0.73,0.79],[2013.58,0.76,0.84],[2013.63,0.82,0.95],[2013.67,0.9,1.02],[2013.71,1.0,1.15],[2013.75,1.14,1.32],
  [2014.18,1.38,1.46],[2014.22,1.25,1.4],[2014.28,1.11,1.29],[2014.32,1.0,1.15],[2014.36,0.9,1.02],[2014.4,0.83,0.92],[2014.45,0.78,0.84],[2014.51,0.75,0.79],[2014.56,0.77,0.82],[2014.6,0.81,0.87],[2014.64,0.86,0.98],[2014.68,0.93,1.08],[2014.72,1.05,1.25],[2014.76,1.29,1.46],
  [2015.17,1.62,1.7],[2015.2,1.5,1.64],[2015.24,1.4,1.55],[2015.28,1.27,1.42],[2015.31,1.14,1.29],[2015.35,1.02,1.15],[2015.39,0.93,1.02],[2015.42,0.88,0.95],[2015.45,0.85,0.9],[2015.51,0.85,0.9],[2015.55,0.88,0.96],[2015.59,0.93,1.02],[2015.63,1.0,1.2],[2015.68,1.14,1.35],[2015.72,1.3,1.5],[2015.77,1.49,1.67],
  [2016.19,1.7,1.81],[2016.22,1.6,1.72],[2016.26,1.46,1.61],[2016.3,1.33,1.5],[2016.34,1.2,1.38],[2016.38,1.1,1.25],[2016.41,1.02,1.11],[2016.45,0.94,1.02],[2016.49,0.94,1.0],[2016.52,0.96,1.02],[2016.57,1.02,1.15],[2016.61,1.08,1.26],[2016.65,1.2,1.42],[2016.7,1.35,1.55],[2016.74,1.5,1.7],[2016.78,1.67,1.79],
  [2017.2,1.85,1.93],[2017.23,1.75,1.88],[2017.26,1.67,1.85],[2017.3,1.52,1.7],[2017.34,1.43,1.61],[2017.37,1.32,1.45],[2017.41,1.23,1.35],[2017.45,1.06,1.2],[2017.49,1.06,1.14],[2017.52,1.08,1.17],[2017.56,1.15,1.28],[2017.61,1.23,1.38],[2017.65,1.35,1.55],[2017.7,1.46,1.67],[2017.74,1.62,1.8],[2017.78,1.76,1.9],
];
const arcG2bPts: Pt[] = [];

// ---------------- styling / layout ----------------
const W = 1363;
const H = 827;
const X0 = 92;
const X1 = 1348;
const FONT = '"Liberation Sans", Arial, Helvetica, sans-serif';
const COLORS = ['#ff0000', '#0000ff', '#008000', '#993300'];
const R = 2.9;

const xScale = d3.scaleLinear().domain([1995.9355, 2017.837]).range([X0, X1]);

interface Series { band: Band[]; pts: Pt[]; color: string }
interface Panel {
  key: string; top: number; bottom: number; domain: [number, number];
  ticks: number[]; tickLabels: string[];
  line1: string; line1x: number; line2: React.ReactNode; line2x: number;
  series: Series[];
}

const sup = (s: string) => <tspan baselineShift="super" fontSize="14">{s}</tspan>;

const panels: Panel[] = [
  {
    key: 'scd', top: 12, bottom: 240, domain: [-2, 2], ticks: scdTicks, tickLabels: scdTickLabels,
    line1: 'BrO SCDs over the', line1x: 22,
    line2: <>Pacific [10{sup('14')}<tspan baselineShift="0">molec/cm</tspan>{sup('2')}<tspan baselineShift="0">]</tspan></>, line2x: 53,
    series: [
      { band: scdGomeBand, pts: scdGomePts, color: COLORS[0] },
      { band: scdSciaBand, pts: scdSciaPts, color: COLORS[1] },
      { band: scdG2aBand, pts: scdG2aPts, color: COLORS[2] },
      { band: scdG2bBand, pts: scdG2bPts, color: COLORS[3] },
    ],
  },
  {
    key: 'pac', top: 282, bottom: 517.2, domain: [0, 3], ticks: pacTicks, tickLabels: pacTickLabels,
    line1: 'RMSE of the fit over the', line1x: 33,
    line2: <>Pacific [10{sup('\u22123')}<tspan baselineShift="0">unitless]</tspan></>, line2x: 64,
    series: [
      { band: pacGomeBand, pts: pacGomePts, color: COLORS[0] },
      { band: pacSciaBand, pts: pacSciaPts, color: COLORS[1] },
      { band: pacG2aBand, pts: pacG2aPts, color: COLORS[2] },
      { band: pacG2bBand, pts: pacG2bPts, color: COLORS[3] },
    ],
  },
  {
    key: 'arc', top: 560.5, bottom: 784.3, domain: [0.5, 2.5], ticks: arcTicks, tickLabels: arcTickLabels,
    line1: 'RMSE of the fit over the', line1x: 21,
    line2: <>Arctic [10{sup('\u22123')}<tspan baselineShift="0">unitless]</tspan></>, line2x: 53,
    series: [
      { band: arcGomeBand, pts: arcGomePts, color: COLORS[0] },
      { band: arcSciaBand, pts: arcSciaPts, color: COLORS[1] },
      { band: arcG2aBand, pts: arcG2aPts, color: COLORS[2] },
      { band: arcG2bBand, pts: arcG2bPts, color: COLORS[3] },
    ],
  },
];

const TICK = 11;

function PanelView({ p }: { p: Panel }) {
  const y = d3.scaleLinear().domain(p.domain).range([p.bottom, p.top]);
  const cy = (p.top + p.bottom) / 2;
  const clipId = `clip-${p.key}`;
  return (
    <g>
      <defs>
        <clipPath id={clipId}>
          <rect x={X0} y={p.top - 2} width={X1 - X0} height={p.bottom - p.top + 2} />
        </clipPath>
      </defs>
      <g stroke="#9a9a9a" strokeWidth={1} strokeDasharray="1 3">
        {yearTicks.map((t) => (
          <line key={`gx${t}`} x1={xScale(t)} x2={xScale(t)} y1={p.top} y2={p.bottom} />
        ))}
        {p.ticks.map((t) => (
          <line key={`gy${t}`} x1={X0} x2={X1} y1={y(t)} y2={y(t)} />
        ))}
      </g>
      <g clipPath={`url(#${clipId})`}>
        {p.series.map((s, si) => (
          <g key={si}>
            {s.band.map((b, i) => (
              <line key={`b${i}`} x1={xScale(b[0])} x2={xScale(b[0])} y1={y(b[1])} y2={y(b[2])}
                stroke={s.color} strokeWidth={R * 2} strokeLinecap="round" />
            ))}
            {s.pts.map((d, i) => (
              <circle key={`p${i}`} cx={xScale(d[0])} cy={y(d[1])} r={R} fill={s.color} />
            ))}
          </g>
        ))}
      </g>
      <rect x={X0} y={p.top} width={X1 - X0} height={p.bottom - p.top} fill="none" stroke="#1a1a1a" strokeWidth={1.1} />
      <g stroke="#1a1a1a" strokeWidth={1.1}>
        {yearTicks.map((t) => (
          <g key={`tx${t}`}>
            <line x1={xScale(t)} x2={xScale(t)} y1={p.bottom} y2={p.bottom - TICK} />
            <line x1={xScale(t)} x2={xScale(t)} y1={p.top} y2={p.top + TICK} />
          </g>
        ))}
        {p.ticks.map((t) => (
          <g key={`ty${t}`}>
            <line x1={X0} x2={X0 + TICK} y1={y(t)} y2={y(t)} />
            <line x1={X1} x2={X1 - TICK} y1={y(t)} y2={y(t)} />
          </g>
        ))}
      </g>
      <g fontFamily={FONT} fontSize={17} fill="#111">
        {yearTicks.map((t) => (
          <text key={`lx${t}`} x={xScale(t)} y={p.bottom + 19} textAnchor="middle">{t}</text>
        ))}
        {p.ticks.map((t, i) => (
          <text key={`ly${t}`} x={87} y={y(t)} textAnchor="end" dominantBaseline="central">{p.tickLabels[i]}</text>
        ))}
      </g>
      <g fontFamily={FONT} fontSize={21} fill="#111">
        <text transform={`translate(${p.line1x},${cy}) rotate(-90)`} textAnchor="middle" dominantBaseline="central">{p.line1}</text>
        <text transform={`translate(${p.line2x},${cy}) rotate(-90)`} textAnchor="middle" dominantBaseline="central">{p.line2}</text>
      </g>
    </g>
  );
}

function Legend() {
  const dotX = [460.7, 555, 700, 821];
  const txtX = [481, 576, 721, 841];
  return (
    <g>
      <rect x={439} y={185} width={486} height={29} fill="#fff" stroke="#1a1a1a" strokeWidth={1.1} />
      {instruments.map((name, i) => (
        <g key={name}>
          <circle cx={dotX[i]} cy={200} r={3.3} fill={COLORS[i]} />
          <text x={txtX[i]} y={200} dominantBaseline="central" fontFamily={FONT} fontSize={16.5} fill="#111">{name}</text>
        </g>
      ))}
    </g>
  );
}

export default function App() {
  return (
    <svg width={W} height={H} viewBox={`0 0 ${W} ${H}`} style={{ position: 'absolute', left: 0, top: 0, background: '#fff' }}>
      <rect x={0} y={0} width={W} height={H} fill="#fff" />
      {panels.map((p) => <PanelView key={p.key} p={p} />)}
      <Legend />
      <text x={723} y={824} textAnchor="middle" fontFamily={FONT} fontSize={20} fill="#111">Year</text>
    </svg>
  );
}
